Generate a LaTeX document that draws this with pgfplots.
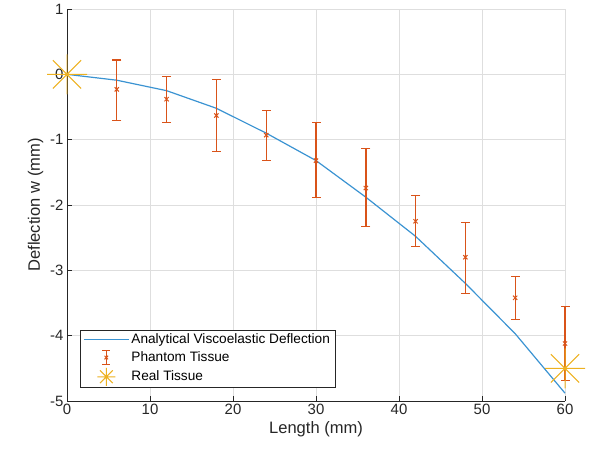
\documentclass[border=0pt]{standalone}
\usepackage{fontspec}
\setmainfont{Liberation Sans}
\usepackage{pgfplots}
\pgfplotsset{compat=1.18}
\usetikzlibrary{calc}

\definecolor{mblue}{HTML}{3A93D2}
\definecolor{morange}{HTML}{D95319}
\definecolor{myellow}{HTML}{EDB120}
\definecolor{maxis}{HTML}{262626}
\definecolor{mgrid}{HTML}{DEDEDE}

% matlab style '*' marker (plus + cross)
\pgfdeclareplotmark{mstar}{%
  \pgfpathmoveto{\pgfqpoint{-\pgfplotmarksize}{0pt}}%
  \pgfpathlineto{\pgfqpoint{\pgfplotmarksize}{0pt}}%
  \pgfpathmoveto{\pgfqpoint{0pt}{-\pgfplotmarksize}}%
  \pgfpathlineto{\pgfqpoint{0pt}{\pgfplotmarksize}}%
  \pgfpathmoveto{\pgfpointpolar{45}{\pgfplotmarksize}}%
  \pgfpathlineto{\pgfpointpolar{225}{\pgfplotmarksize}}%
  \pgfpathmoveto{\pgfpointpolar{135}{\pgfplotmarksize}}%
  \pgfpathlineto{\pgfpointpolar{315}{\pgfplotmarksize}}%
  \pgfusepathqstroke}

\pgfplotsset{
  leg line/.style={legend image code/.code={\draw[##1] (0bp,0bp) -- (45bp,0bp);}},
  leg errbar/.style={legend image code/.code={%
    \draw[draw=morange, line width=1.4pt] (22.5bp,-7bp) -- (22.5bp,7bp)
      (18.5bp,-7bp) -- (26.5bp,-7bp) (18.5bp,7bp) -- (26.5bp,7bp);
    \draw[draw=morange, line width=1pt, mark=x, mark size=2.5bp, only marks]
      plot coordinates {(22.5bp,0bp)};}},
  leg star/.style={legend image code/.code={%
    \draw[draw=myellow, line width=1pt, mark=mstar, mark size=9bp, only marks]
      plot coordinates {(22.5bp,0bp)};}},
}

\pgfplotstableread{
x   y
0   0
6   -0.09
12  -0.25
18  -0.52
24  -0.90
30  -1.32
36  -1.88
42  -2.48
48  -3.20
54  -3.97
60  -4.88
}\analyticaldata

% phantom tissue: mean deflection
\pgfplotstableread{
x   y
6   -0.23
12  -0.38
18  -0.63
24  -0.93
30  -1.32
36  -1.74
42  -2.25
48  -2.80
54  -3.42
60  -4.12
}\phantomdata

% phantom tissue: error bar ends (top, bottom)
\pgfplotstableread{
x    y
6    0.22
6    -0.70
nan  nan
12   -0.04
12   -0.74
nan  nan
18   -0.08
18   -1.18
nan  nan
24   -0.56
24   -1.32
nan  nan
30   -0.74
30   -1.88
nan  nan
36   -1.14
36   -2.33
nan  nan
42   -1.86
42   -2.63
nan  nan
48   -2.27
48   -3.35
nan  nan
54   -3.10
54   -3.75
nan  nan
60   -3.56
60   -4.68
}\phantombars

\pgfplotstableread{
x   y
0   0
60  -4.5
}\realdata

\begin{document}
\begin{tikzpicture}
\begin{axis}[
  scale only axis,
  width=498bp, height=392bp,
  xmin=0, xmax=60, ymin=-5, ymax=1,
  xtick={0,10,...,60},
  ytick={-5,-4,...,1},
  axis x line*=bottom, axis y line*=left,
  axis line style={-, maxis, line width=0.6pt},
  tick align=inside,
  major tick length=5bp,
  tick style={maxis, line width=0.6pt},
  grid=major,
  grid style={mgrid, line width=0.6pt},
  /pgf/number format/assume math mode=true,
  tick label style={font=\fontsize{15}{18}\selectfont, text=maxis},
  label style={font=\fontsize{16.6}{20}\selectfont, text=maxis},
  xlabel={Length (mm)},
  ylabel={Deflection w (mm)},
  unbounded coords=jump,
  legend style={
    at={(0.026,0.033)}, anchor=south west,
    font=\fontsize{13.7}{16}\selectfont,
    draw=maxis, line width=0.6pt, fill=white,
    inner xsep=3bp, inner ysep=2bp,
    row sep=2.5bp,
    legend cell align=left,
  },
  clip=false,
]
\addplot[mblue, line width=1.2pt, no marks, leg line]
  table[x=x, y=y] {\analyticaldata};
\addlegendentry{Analytical Viscoelastic Deflection}

\addplot[morange, line width=1.4pt, no marks, forget plot]
  table[x=x, y=y] {\phantombars};
\addplot[morange, only marks, mark=-, mark size=4.5bp, line width=1.1pt, forget plot]
  table[x=x, y=y] {\phantombars};
\addplot[morange, only marks, mark=x, mark size=3bp, line width=1pt, leg errbar]
  table[x=x, y=y] {\phantomdata};
\addlegendentry{Phantom Tissue}

\addplot[myellow, only marks, mark=mstar, mark size=20bp, line width=1pt, leg star]
  table[x=x, y=y] {\realdata};
\addlegendentry{Real Tissue}
\end{axis}
\path ($(current axis.south west)+(-67bp,-52bp)$) rectangle ($(current axis.north east)+(30bp,9bp)$);
\end{tikzpicture}
\end{document}
